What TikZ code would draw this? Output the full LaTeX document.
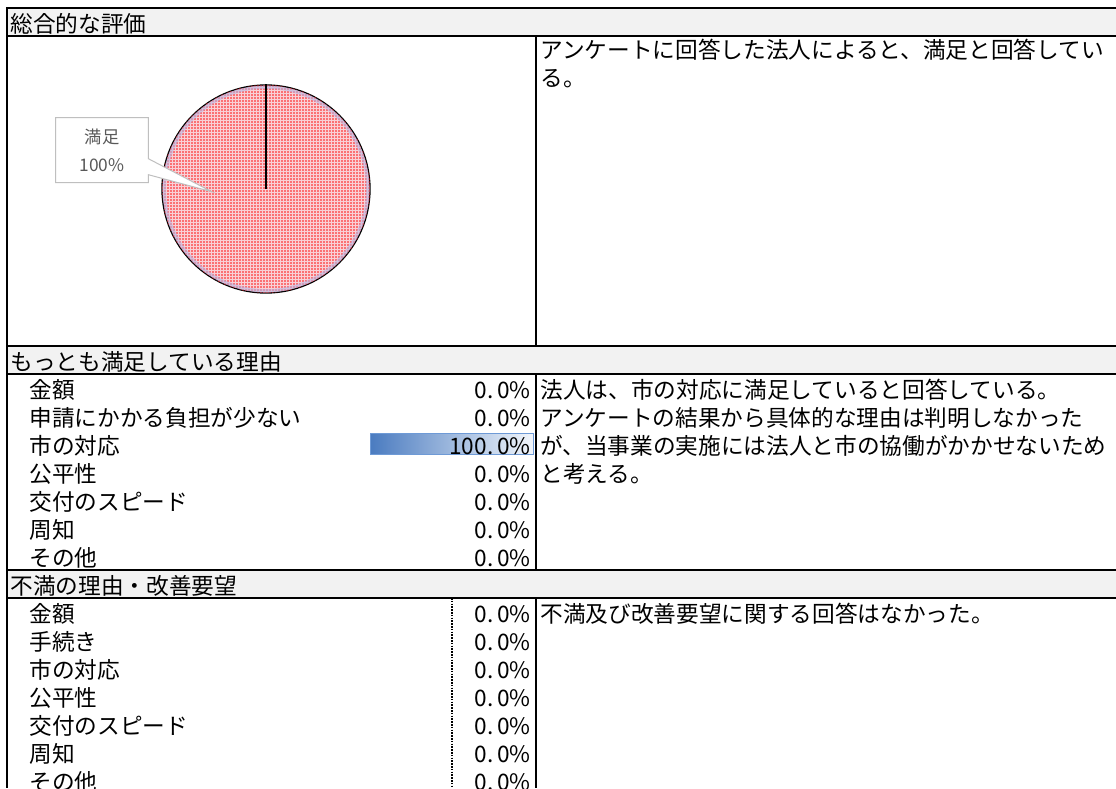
\documentclass[tikz,border=0pt]{standalone}
\usepackage{fontspec}
\setmainfont{Noto Sans CJK JP}
\usepackage{tikz}
\usetikzlibrary{positioning,shapes.callouts,patterns.meta}
\definecolor{headerGray}{HTML}{F2F2F2}
\definecolor{labelGray}{HTML}{595959}
\definecolor{tagEdge}{HTML}{BFBFBF}
\definecolor{pieDots}{HTML}{FF1010}
\definecolor{piePink}{HTML}{F9D0D6}
\definecolor{pieRim}{HTML}{B9B6E2}
\definecolor{barDark}{HTML}{4A7BC0}
\definecolor{barLight}{HTML}{F2F6FB}
\definecolor{barEdge}{HTML}{6E9AD6}
\tikzset{
  every picture/.append style={line width=0.6pt},
  every node/.append style={font=\fontsize{17}{21}\selectfont},
}
\newcommand{\pctval}[2]{#1.\,#2\%}

\begin{document}
\begin{tikzpicture}[
  x=0.75pt, y=-0.75pt,
  grid/.style={line width=1.5pt, black},
  header/.style={fill=headerGray},
  title/.style={anchor=west, inner sep=0pt, text height=15pt, text depth=2pt},
  item/.style={anchor=west, inner sep=0pt, text height=15pt, text depth=2pt},
  percent/.style={anchor=east, inner sep=0pt, text height=15pt, text depth=2pt},
  comment/.style={anchor=north west, inner sep=0pt, align=left},
  pie/.style={circle, draw=black, line width=1pt, minimum size=156pt, inner sep=0pt, fill=piePink, postaction={pattern={Dots[radius=0.6pt, distance=2.25pt]}, pattern color=pieDots}},
  pieLine/.style={line width=1.6pt},
  tagBox/.style={rectangle callout, draw=tagEdge, fill=white, text=labelGray, line width=0.75pt, align=center, inner sep=0pt, minimum width=69.5pt, minimum height=48.75pt, callout pointer width=12pt, font=\fontsize{13}{20.7}\selectfont},
  barFill/.style={left color=barDark, right color=barLight},
  dashLine/.style={line width=0.8pt, dash pattern=on 1.2pt off 0.9pt}
]
\useasboundingbox (0,0) rectangle (1116,788);

% Header shading
\fill[header] (7,8) rectangle (1116,36);
\fill[header] (7,346) rectangle (1116,374);
\fill[header] (7,570) rectangle (1116,598);

% Pie chart
\node[pie] (pie) at (266,189) {};
\draw[pieRim, line width=2.5pt, opacity=0.6] (pie.center) circle (101.8);
\draw[pieLine] (pie.north) -- (pie.center);

% Data label
\coordinate (satTip) at (211.7,191.7);
\node[tagBox, callout absolute pointer={(satTip)}] (satLabel) at (102,150.2) {満足\\100\%};

% Data bar
\shade[barFill] (370,433) rectangle (533,454);
\draw[barEdge, line width=0.75pt] (370,433) rectangle (533,454);

% Grid
\draw[grid] (1116,8) -- (7,8) -- (7,788);
\draw[grid] (7,36) -- (1116,36);
\draw[grid] (7,346) -- (1116,346);
\draw[grid] (7,374) -- (1116,374);
\draw[grid] (7,570) -- (1116,570);
\draw[grid] (7,598) -- (1116,598);
\draw[grid] (536,36) -- (536,346);
\draw[grid] (536,374) -- (536,570);
\draw[grid] (536,598) -- (536,788);
\draw[dashLine] (452,598) -- (452,788);

% Section titles
\node[title] (hdrOverall) at (10,24) {総合的な評価};
\node[title] (hdrBest) at (10,362) {もっとも満足している理由};
\node[title] (hdrComplaint) at (10,586) {不満の理由・改善要望};

% Most satisfied reasons
\node[item] (best1) at (29,389.5) {金額};
\node[item] (best2) at (29,417.5) {申請にかかる負担が少ない};
\node[item] (best3) at (29,445.5) {市の対応};
\node[item] (best4) at (29,473.5) {公平性};
\node[item] (best5) at (29,501.5) {交付のスピード};
\node[item] (best6) at (29,529.5) {周知};
\node[item] (best7) at (29,557.5) {その他};
\node[percent] (bestPct1) at (531,389.5) {\pctval{0}{0}};
\node[percent] (bestPct2) at (531,417.5) {\pctval{0}{0}};
\node[percent] (bestPct3) at (531,445.5) {\pctval{100}{0}};
\node[percent] (bestPct4) at (531,473.5) {\pctval{0}{0}};
\node[percent] (bestPct5) at (531,501.5) {\pctval{0}{0}};
\node[percent] (bestPct6) at (531,529.5) {\pctval{0}{0}};
\node[percent] (bestPct7) at (531,557.5) {\pctval{0}{0}};

% Complaint reasons
\node[item] (bad1) at (29,613.5) {金額};
\node[item] (bad2) at (29,641.5) {手続き};
\node[item] (bad3) at (29,669.5) {市の対応};
\node[item] (bad4) at (29,697.5) {公平性};
\node[item] (bad5) at (29,725.5) {交付のスピード};
\node[item] (bad6) at (29,753.5) {周知};
\node[item] (bad7) at (29,781.5) {その他};
\node[percent] (badPct1) at (531,613.5) {\pctval{0}{0}};
\node[percent] (badPct2) at (531,641.5) {\pctval{0}{0}};
\node[percent] (badPct3) at (531,669.5) {\pctval{0}{0}};
\node[percent] (badPct4) at (531,697.5) {\pctval{0}{0}};
\node[percent] (badPct5) at (531,725.5) {\pctval{0}{0}};
\node[percent] (badPct6) at (531,753.5) {\pctval{0}{0}};
\node[percent] (badPct7) at (531,781.5) {\pctval{0}{0}};

% Comments
\node[comment] (noteOverall) at (540,38.7) {アンケートに回答した法人によると、満足と回答してい\\る。};
\node[comment] (noteBest) at (540,378.7) {法人は、市の対応に満足していると回答している。\\アンケートの結果から具体的な理由は判明しなかった\\が、当事業の実施には法人と市の協働がかかせないため\\と考える。};
\node[comment] (noteComplaint) at (540,602.7) {不満及び改善要望に関する回答はなかった。};

\end{tikzpicture}
\end{document}
